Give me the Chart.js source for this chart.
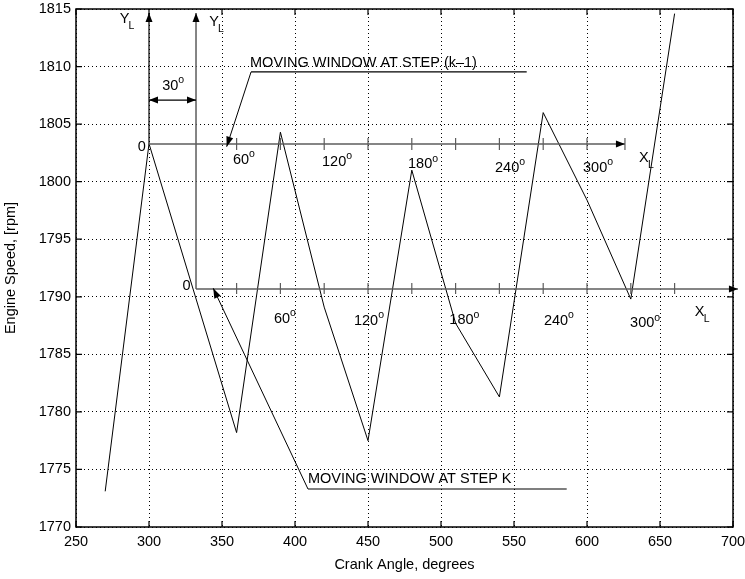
<!DOCTYPE html>
<html>
<head>
<meta charset="utf-8">
<script src="https://cdn.jsdelivr.net/npm/chart.js@4/dist/chart.umd.min.js"></script>
<style>
  html, body { margin: 0; padding: 0; background: #fff; }
</style>
</head>
<body>
<canvas id="speedChart" width="745" height="579"></canvas>
<script>
// engine speed trace
const crankAngle  = [270, 300, 360, 390, 420, 450, 480, 510, 540, 570, 600, 630, 660];
const engineSpeed = [1773.1, 1803.3, 1778.2, 1804.3, 1789.1, 1777.5, 1801.0, 1787.7, 1781.3, 1806.0, 1798.4, 1789.8, 1814.6];

const xTicks = [250, 300, 350, 400, 450, 500, 550, 600, 650, 700];
const yTicks = [1770, 1775, 1780, 1785, 1790, 1795, 1800, 1805, 1810, 1815];

// moving window axes (in crank angle / rpm units)
const upperWindowTicks = [360, 390, 420, 450, 480, 510, 540, 570, 600, 626];
const lowerWindowTicks = [360, 390, 420, 450, 480, 510, 540, 570, 600, 630, 660];
const windowLabels = [60, 120, 180, 240, 300];
const upperLabelX = [357.5, 418.5, 477.4, 537, 597.3];
const upperLabelY = [1802.0, 1801.8, 1801.6, 1801.3, 1801.3];
const lowerLabelX = [385.6, 440.4, 505.7, 570.5, 629.5];
const lowerLabelY = [1788.2, 1788.0, 1788.05, 1788.0, 1787.8];

const FONT = "'Liberation Sans', Arial, Helvetica, sans-serif";
const FS = 14.5;
Chart.defaults.font.family = FONT;
Chart.defaults.color = '#000';

const gray = '#5c5c5c';

function drawAnnotations(chart) {
    const {ctx, scales: {x, y}} = chart;
    const px = v => x.getPixelForValue(v);
    const py = v => y.getPixelForValue(v);

    const line = (x1, y1, x2, y2, color, w) => {
        ctx.save();
        ctx.strokeStyle = color;
        ctx.lineWidth = w;
        ctx.beginPath();
        ctx.moveTo(x1, y1);
        ctx.lineTo(x2, y2);
        ctx.stroke();
        ctx.restore();
    };
    const head = (tx, ty, fx, fy, len = 9, half = 3.5) => {
        const a = Math.atan2(ty - fy, tx - fx);
        ctx.save();
        ctx.fillStyle = '#000';
        ctx.beginPath();
        ctx.moveTo(tx, ty);
        ctx.lineTo(tx - len * Math.cos(a) + half * Math.sin(a), ty - len * Math.sin(a) - half * Math.cos(a));
        ctx.lineTo(tx - len * Math.cos(a) - half * Math.sin(a), ty - len * Math.sin(a) + half * Math.cos(a));
        ctx.closePath();
        ctx.fill();
        ctx.restore();
    };
    const text = (s, tx, ty, align = 'left', size = FS, color = '#000') => {
        ctx.save();
        ctx.font = size + 'px ' + FONT;
        ctx.fillStyle = color;
        ctx.textAlign = align;
        ctx.textBaseline = 'middle';
        ctx.fillText(s, tx, ty);
        ctx.restore();
    };
    const subLabel = (main, sub, tx, ty) => {
        text(main, tx, ty, 'center');
        text(sub, tx + 7, ty + 7, 'center', 10.5);
    };
    const degLabel = (num, lx, cy) => {
        ctx.save();
        ctx.font = FS + 'px ' + FONT;
        ctx.fillStyle = '#000';
        ctx.textAlign = 'left';
        ctx.textBaseline = 'alphabetic';
        const s = String(num);
        ctx.fillText(s, lx, cy + 5.2);
        const w = ctx.measureText(s).width;
        ctx.font = '10.5px ' + FONT;
        ctx.fillText('o', lx + w, cy - 1.5);
        ctx.restore();
    };

    // Y_L axes
    line(px(300), py(1803.3), px(300), py(1814.65), '#000', 1.2);
    head(px(300), py(1814.65), px(300), py(1803.3), 9, 3.5);
    line(px(332.2), py(1790.68), px(332.2), py(1814.65), gray, 1.5);
    head(px(332.2), py(1814.65), px(332.2), py(1790.68), 9, 3.5);
    subLabel('Y', 'L', px(283.2), py(1814.13));
    subLabel('Y', 'L', px(344.5), py(1813.87));

    // 30 degree offset
    line(px(300), py(1807.09), px(332.2), py(1807.09), '#000', 1.2);
    head(px(300), py(1807.09), px(316), py(1807.09), 9, 3.5);
    head(px(332.2), py(1807.09), px(316), py(1807.09), 9, 3.5);
    degLabel(30, px(309), py(1808.4));

    // upper window axis (step k-1)
    line(px(300), py(1803.27), px(626), py(1803.27), gray, 1.5);
    upperWindowTicks.forEach(t => line(px(t), py(1803.27) - 6, px(t), py(1803.27) + 6, gray, 1.2));
    head(px(626), py(1803.27), px(600), py(1803.27), 9, 3.5);
    windowLabels.forEach((n, i) => degLabel(n, px(upperLabelX[i]), py(upperLabelY[i])));
    text('0', px(297.8), py(1803.0), 'right');
    subLabel('X', 'L', px(639.0), py(1802.06));

    // lower window axis (step k)
    line(px(332.2), py(1790.68), px(703.4), py(1790.68), gray, 1.5);
    lowerWindowTicks.forEach(t => line(px(t), py(1790.68) - 6, px(t), py(1790.68) + 5, gray, 1.2));
    head(px(703.4), py(1790.68), px(680), py(1790.68), 9, 3.5);
    windowLabels.forEach((n, i) => degLabel(n, px(lowerLabelX[i]), py(lowerLabelY[i])));
    text('0', px(328.5), py(1790.9), 'right');
    subLabel('X', 'L', px(677.1), py(1788.68));

    // callouts
    text('MOVING WINDOW AT STEP (k\u20131)', px(369.2), py(1810.3));
    line(px(369.9), py(1809.53), px(558.7), py(1809.53), '#000', 1.2);
    line(px(369.9), py(1809.53), px(353.2), py(1803.04), '#000', 1);
    head(px(353.2), py(1803.04), px(369.9), py(1809.53), 10, 3.5);

    text('MOVING WINDOW AT STEP K', px(408.9), py(1774.21));
    line(px(408.9), py(1773.3), px(586.1), py(1773.3), '#000', 1.2);
    line(px(408.9), py(1773.3), px(344.0), py(1790.74), '#000', 1);
    head(px(344.0), py(1790.74), px(408.9), py(1773.3), 10, 3.5);
}

const framePlugin = {
    id: 'frame',
    afterDatasetsDraw(chart) {
        const {ctx, chartArea: a, scales: {x, y}} = chart;
        ctx.save();
        ctx.strokeStyle = '#000';
        ctx.lineWidth = 1.5;
        ctx.strokeRect(a.left, a.top, a.right - a.left, a.bottom - a.top);
        ctx.lineWidth = 1.2;
        ctx.beginPath();
        xTicks.forEach(v => {
            const p = x.getPixelForValue(v);
            ctx.moveTo(p, a.bottom); ctx.lineTo(p, a.bottom - 6);
            ctx.moveTo(p, a.top); ctx.lineTo(p, a.top + 6);
        });
        yTicks.forEach(v => {
            const p = y.getPixelForValue(v);
            ctx.moveTo(a.left, p); ctx.lineTo(a.left + 6, p);
            ctx.moveTo(a.right, p); ctx.lineTo(a.right - 6, p);
        });
        ctx.stroke();
        ctx.restore();
        drawAnnotations(chart);
    }
};

const chartConfig = {
    type: 'line',
    data: {
        datasets: [{
            data: crankAngle.map((a, i) => ({x: a, y: engineSpeed[i]})),
            borderColor: '#000',
            borderWidth: 1,
            pointRadius: 0,
            tension: 0,
            fill: false
        }]
    },
    options: {
        responsive: false,
        animation: false,
        layout: {
            padding: {left: 0, right: 12, top: 9, bottom: 0}
        },
        plugins: {
            legend: {display: false},
            tooltip: {enabled: false}
        },
        scales: {
            x: {
                type: 'linear',
                min: 250,
                max: 700,
                afterBuildTicks: s => { s.ticks = xTicks.map(v => ({value: v})); },
                afterFit: s => { s.height = 52; s.paddingLeft = 0; s.paddingRight = 0; },
                grid: {color: '#000', lineWidth: 1, drawTicks: false},
                border: {display: false, dash: [1, 3]},
                ticks: {padding: 6, maxRotation: 0, autoSkip: false, font: {size: FS},
                        callback: v => String(v)},
                title: {
                    display: true,
                    text: 'Crank Angle, degrees',
                    font: {size: FS},
                    padding: {top: 0, bottom: 5}
                }
            },
            y: {
                min: 1770,
                max: 1815,
                afterBuildTicks: s => { s.ticks = yTicks.map(v => ({value: v})); },
                afterFit: s => { s.width = 76; s.paddingTop = 0; s.paddingBottom = 0; },
                grid: {color: '#000', lineWidth: 1, drawTicks: false},
                border: {display: false, dash: [1, 3]},
                ticks: {padding: 5, autoSkip: false, font: {size: FS},
                        callback: v => String(v)},
                title: {
                    display: true,
                    text: 'Engine Speed, [rpm]',
                    font: {size: FS},
                    padding: {top: 2.5, bottom: 0}
                }
            }
        }
    },
    plugins: [framePlugin]
};

const speedChart = new Chart(document.getElementById('speedChart'), chartConfig);
</script>
</body>
</html>
